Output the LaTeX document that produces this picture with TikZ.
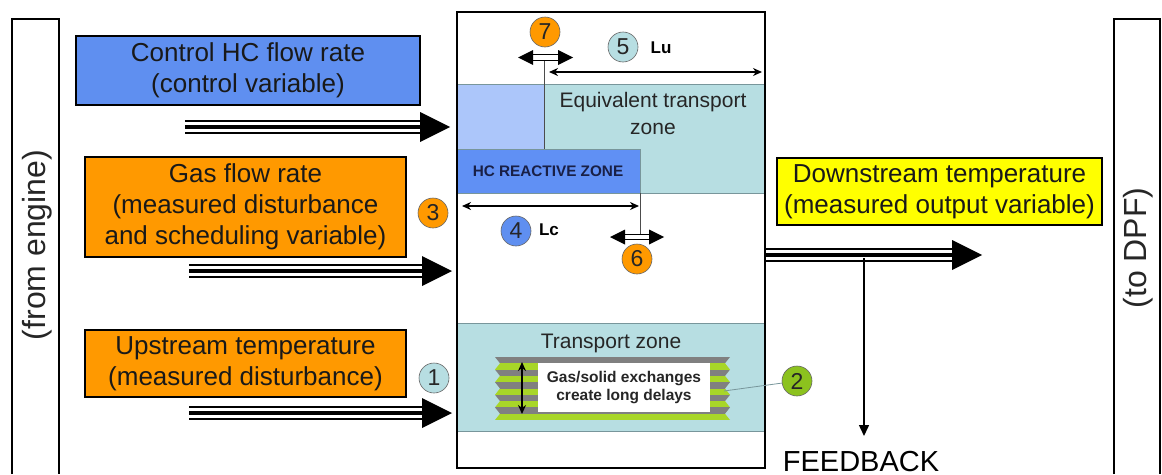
\documentclass[tikz,border=0pt]{standalone}
\usepackage{fontspec}
\setmainfont{Liberation Sans}
\usetikzlibrary{arrows.meta,calc}
\definecolor{ctrlblue}{RGB}{95,143,240}
\definecolor{hcblue}{RGB}{96,144,244}
\definecolor{lightblue}{RGB}{172,198,250}
\definecolor{zoneteal}{RGB}{183,222,226}
\definecolor{orng}{RGB}{255,153,0}
\definecolor{ylw}{RGB}{255,255,0}
\definecolor{grn}{RGB}{140,194,30}
\definecolor{stripegreen}{RGB}{168,214,40}
\definecolor{stripegray}{RGB}{128,128,128}
\definecolor{zoneline}{RGB}{120,150,155}
\definecolor{navytext}{RGB}{25,32,70}
\newcommand\triarrow[2]{%
  \draw[line width=2pt] ([yshift=6pt]#1) -- ([xshift=-30pt,yshift=6pt]#2);
  \draw[line width=4pt] (#1) -- ([xshift=-30pt]#2);
  \draw[line width=2pt] ([yshift=-6pt]#1) -- ([xshift=-30pt,yshift=-6pt]#2);
  \fill ([xshift=-30pt,yshift=15pt]#2) -- (#2) -- ([xshift=-30pt,yshift=-15pt]#2) -- cycle;}
\newcommand\hdarrow[3]{%
  \fill (#1,#3) -- ({#1+15},{#3-7.5}) -- ({#1+15},{#3+7.5}) -- cycle;
  \fill (#2,#3) -- ({#2-15},{#3-7.5}) -- ({#2-15},{#3+7.5}) -- cycle;
  \draw[line width=1.3pt] ({#1+14},{#3-2.8}) -- ({#2-14},{#3-2.8})
                          ({#1+14},{#3+2.8}) -- ({#2-14},{#3+2.8});}
\begin{document}
\begin{tikzpicture}[x=1pt,y=-1pt,
  inbox/.style={draw=black, line width=2pt, align=center,
    font=\fontsize{26}{31}\selectfont, text=black!90, inner sep=0pt},
  num/.style={circle, draw=black!60, line width=0.6pt, minimum size=30pt,
    inner sep=0pt, font=\fontsize{23}{23}\selectfont, text=black!85},
  zone/.style={draw=zoneline, line width=0.8pt},
  lenarrow/.style={line width=2pt, {Stealth[length=9pt,width=8pt]}-{Stealth[length=9pt,width=8pt]}},
  sidebox/.style={draw=black, line width=2.2pt}
]
\useasboundingbox (0,0) rectangle (1162,474);

% side boxes
\draw[sidebox] (12,474) -- (12,19) -- (59,19) -- (59,474);
\node[rotate=90, font=\fontsize{32}{32}\selectfont, text=black!85] (eng) at (37,245) {(from engine)};
\draw[sidebox] (1114,474) -- (1114,19) -- (1160,19) -- (1160,474);
\node[rotate=90, font=\fontsize{32}{32}\selectfont, text=black!85] (dpf) at (1138,248) {(to DPF)};

% input boxes
\node[inbox, fill=ctrlblue, minimum width=344pt, minimum height=69pt] (ctrl) at (248,70.5)
  {Control HC flow rate\\(control variable)};
\node[inbox, fill=orng, minimum width=321pt, minimum height=100pt] (gas) at (245.5,207)
  {\raisebox{-3pt}{\parbox{321pt}{\centering Gas flow rate\\(measured disturbance\\and scheduling variable)}}};
\node[inbox, fill=orng, minimum width=321pt, minimum height=67pt] (up) at (245.5,363.5)
  {Upstream temperature\\(measured disturbance)};
\node[inbox, fill=ylw, minimum width=325pt, minimum height=67pt] (down) at (939.5,191.5)
  {Downstream temperature\\(measured output variable)};

% zones inside the catalyst box
\filldraw[zone, fill=zoneteal] (544,84) rectangle (765,193);
\filldraw[zone, fill=lightblue] (457,84) rectangle (544,149);
\filldraw[zone, fill=hcblue] (457,149) rectangle (640,193);
\node[font=\fontsize{15.3}{15.3}\selectfont\bfseries, text=navytext] (hc) at (548,171) {HC REACTIVE ZONE};
\node[align=center, font=\fontsize{21}{27}\selectfont, text=black!85] (eq) at (653,113.5)
  {Equivalent transport\\zone};
\filldraw[zone, fill=zoneteal] (457,323) rectangle (765,431);
\node[font=\fontsize{21}{21}\selectfont, text=black!85] (tz) at (611,343) {Transport zone};

% striped ribbon
\begin{scope}
\clip (495,357) -- (730,357) -- (725,363.3) -- (730,369.6) -- (725,375.9) -- (730,382.2)
  -- (725,388.5) -- (730,394.8) -- (725,401.1) -- (730,407.4) -- (725,413.7) -- (730,420)
  -- (495,420) -- (500,413.7) -- (495,407.4) -- (500,401.1) -- (495,394.8) -- (500,388.5)
  -- (495,382.2) -- (500,375.9) -- (495,369.6) -- (500,363.3) -- cycle;
\foreach \k in {0,2,...,8} \fill[stripegray] (490,{357+6.3*\k}) rectangle (735,{357+6.3*(\k+1)});
\foreach \k in {1,3,...,9} \fill[stripegreen] (490,{357+6.3*\k}) rectangle (735,{357+6.3*(\k+1)});
\end{scope}
\node[fill=white, minimum width=172pt, minimum height=49pt, inner sep=0pt, align=center,
  font=\fontsize{15.5}{18}\selectfont\bfseries, text=black!85] (gs) at (624,387.5)
  {Gas/solid exchanges\\create long delays};
\coordinate (rt) at (522,362);
\coordinate (rb) at (522,414);
\draw[lenarrow, line width=2.2pt] (rt) -- (rb);
\coordinate (rr) at (724,391);

% main catalyst box
\node[draw=black, line width=2.5pt, minimum width=308pt, minimum height=456pt, inner sep=0pt] (cat) at (611,240) {};

% length arrows
\coordinate (lu1) at (549,72);
\coordinate (lu2) at (762,72);
\draw[lenarrow] (lu1) -- (lu2);
\coordinate (lc1) at (462,206);
\coordinate (lc2) at (639,206);
\draw[lenarrow] (lc1) -- (lc2);
\coordinate (v7a) at (544,60);
\coordinate (v7b) at (544,149);
\draw[line width=0.8pt, black!70] (v7a) -- (v7b);
\coordinate (v6a) at (640,193);
\coordinate (v6b) at (640,234);
\draw[line width=0.8pt, black!70] (v6a) -- (v6b);
\hdarrow{518}{573}{57.5}
\hdarrow{610}{664}{237}

% numbered circles
\node[num, fill=orng] (c7) at (545,32) {7};
\node[num, fill=zoneteal] (c5) at (623,47) {5};
\node[font=\fontsize{17}{17}\selectfont\bfseries] (lu) at (661,48) {Lu};
\node[num, fill=orng] (c3) at (433,213) {3};
\node[num, fill=ctrlblue] (c4) at (516,231) {4};
\node[font=\fontsize{17}{17}\selectfont\bfseries] (lc) at (549,230) {Lc};
\node[num, fill=orng] (c6) at (637,259) {6};
\node[num, fill=zoneteal] (c1) at (434,378) {1};
\node[num, fill=grn] (c2) at (797,381) {2};
\draw[zoneline, line width=0.8pt] (rr) -- (c2);

% input arrows
\coordinate (a1s) at (185,127);  \coordinate (a1e) at (450,127);
\coordinate (a2s) at (189,271);  \coordinate (a2e) at (452,271);
\coordinate (a3s) at (189,413);  \coordinate (a3e) at (452,413);
\triarrow{a1s}{a1e}
\triarrow{a2s}{a2e}
\triarrow{a3s}{a3e}

% output arrow and feedback
\coordinate (os) at (766,255);
\coordinate (oe) at (982,255);
\triarrow{os}{oe}
\node[anchor=base, font=\fontsize{29}{29}\selectfont, inner sep=0pt] (fb) at (861,471) {FEEDBACK};
\coordinate (fbs) at (864,258);
\coordinate (fbe) at (864,436);
\draw[line width=1.5pt, -{Triangle[length=11pt,width=10pt]}] (fbs) -- (fbe);
\end{tikzpicture}
\end{document}
